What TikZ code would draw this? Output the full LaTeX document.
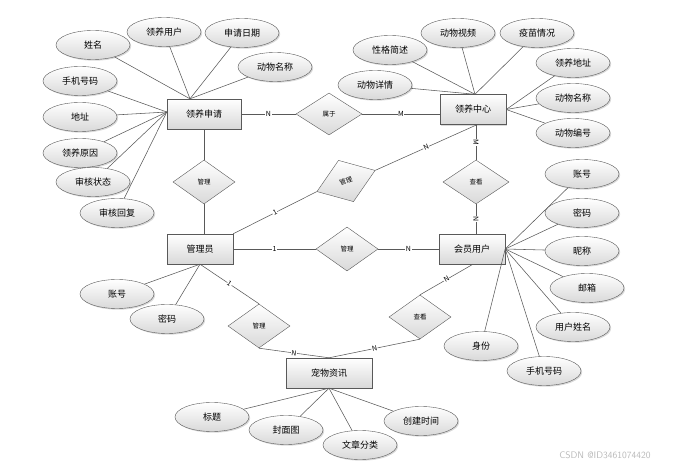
\documentclass[tikz,border=0pt]{standalone}
\usepackage{fontspec}
\usepackage{tikz}
\usetikzlibrary{shapes.geometric,shadows}
\newfontfamily\cjk{Noto Sans CJK SC}
\definecolor{edge}{rgb}{0.35,0.35,0.35}
\definecolor{shade}{rgb}{0.85,0.85,0.85}

\begin{document}
\begin{tikzpicture}[x=1pt, y=-1pt,
    every node/.style={font=\cjk\fontsize{9}{10}\selectfont},
    entity/.style={draw=edge, top color=white, bottom color=shade, minimum width=66pt, minimum height=30pt, inner sep=0pt,
      drop shadow={opacity=0.3, shadow xshift=1.2pt, shadow yshift=-1.2pt}},
    attr/.style={ellipse, draw=edge, top color=white, bottom color=shade, minimum width=74pt, minimum height=29pt, inner sep=0pt,
      drop shadow={opacity=0.3, shadow xshift=1.2pt, shadow yshift=-1.2pt}},
    rel/.style={diamond, draw=edge, top color=white, bottom color=shade, minimum width=62pt, minimum height=44pt, inner sep=0pt,
      font=\cjk\fontsize{6.5}{7}\selectfont},
    card/.style={midway, sloped, fill=white, inner sep=0.5pt, font=\cjk\fontsize{7}{7}\selectfont},
    link/.style={draw=edge, line width=0.55pt}]

      \useasboundingbox (0,0) rectangle (686,470);

      % entities
      \node [entity, minimum width=74pt] at (204, 114) (lysq) {领养申请};
      \node [entity] at (473, 109.5) (lyzx) {领养中心};
      \node [entity] at (200, 249) (gly) {管理员};
      \node [entity] at (472, 249) (hyyh) {会员用户};
      \node [entity, minimum width=86pt] at (329, 373) (cwzx) {宠物资讯};

      % relations
      \node [rel, minimum width=66pt, minimum height=42pt] at (329, 114) (sy) {属于};
      \node [rel] at (204, 182) (gl1) {管理};
      \node [rel, rotate=20] at (346, 181) (gl2) {管理};
      \node [rel] at (347, 249) (gl3) {管理};
      \node [rel] at (259, 326) (gl4) {管理};
      \node [rel, minimum width=66pt] at (476, 182) (ck1) {查看};
      \node [rel] at (420, 317) (ck2) {查看};

      % attributes of 领养申请
      \node [attr] at (93, 45) (sq1) {姓名};
      \node [attr] at (164, 32) (sq2) {领养用户};
      \node [attr] at (242, 33) (sq3) {申请日期};
      \node [attr] at (275, 67) (sq4) {动物名称};
      \node [attr] at (80, 81) (sq5) {手机号码};
      \node [attr] at (80, 117) (sq6) {地址};
      \node [attr] at (80, 153) (sq7) {领养原因};
      \node [attr] at (93, 182) (sq8) {审核状态};
      \node [attr] at (117, 213) (sq9) {审核回复};

      % attributes of 领养中心
      \node [attr] at (390, 50) (zx1) {性格简述};
      \node [attr] at (458, 33) (zx2) {动物视频};
      \node [attr] at (537, 33) (zx3) {疫苗情况};
      \node [attr] at (375, 85) (zx4) {动物详情};
      \node [attr] at (573, 63) (zx5) {领养地址};
      \node [attr] at (573, 98) (zx6) {动物名称};
      \node [attr] at (573, 133) (zx7) {动物编号};

      % attributes of 会员用户
      \node [attr] at (582, 174) (yh1) {账号};
      \node [attr] at (582, 213) (yh2) {密码};
      \node [attr] at (582, 251) (yh3) {昵称};
      \node [attr] at (587, 288) (yh4) {邮箱};
      \node [attr] at (573, 327) (yh5) {用户姓名};
      \node [attr] at (544, 371) (yh6) {手机号码};
      \node [attr] at (481, 346) (yh7) {身份};

      % attributes of 管理员
      \node [attr] at (117, 294) (gy1) {账号};
      \node [attr] at (167, 319) (gy2) {密码};

      % attributes of 宠物资讯
      \node [attr] at (212, 417) (zi1) {标题};
      \node [attr] at (286, 430) (zi2) {封面图};
      \node [attr] at (360, 445) (zi3) {文章分类};
      \node [attr] at (421, 421) (zi4) {创建时间};

      \node [text=gray!55, font=\fontsize{9.5}{10}\selectfont\sffamily] at (605, 455) (mark) {CSDN @ID3461074420};

      % attribute links
      \foreach \a in {sq1,sq2,sq3,sq4}
        \draw [link] (\a) -- ([xshift=-14pt]lysq.north);
      \foreach \a in {sq5,sq6,sq7,sq8,sq9}
        \draw [link] (\a) -- ([yshift=2pt]lysq.west);
      \foreach \a in {zx1,zx2,zx3,zx4}
        \draw [link] (\a) -- ([xshift=2pt]lyzx.north);
      \foreach \a in {zx5,zx6,zx7}
        \draw [link] (\a) -- (lyzx.east);
      \foreach \a in {yh1,yh2,yh3,yh4,yh5,yh6,yh7}
        \draw [link] (\a) -- (hyyh.east);
      \foreach \a in {gy1,gy2}
        \draw [link] (\a) -- (gly.south);
      \foreach \a in {zi1,zi2,zi3,zi4}
        \draw [link] (\a) -- (cwzx.south);

      % relation links
      \draw [link] (lysq.east |- sy.west) -- node [card] {N} (sy.west);
      \draw [link] (sy.east) -- node [card] {M} (sy.east -| lyzx.west);
      \draw [link] (lysq.south) -- (gl1.north);
      \draw [link] (gl1.south) -- (gl1.south |- gly.north);
      \draw [link] (gly.north east) -- node [card] {1} (gl2.west);
      \draw [link] (gl2.east) -- node [card] {N} ([xshift=4pt]lyzx.south);
      \draw [link] (ck1.north |- lyzx.south) -- node [card] {M} (ck1.north);
      \draw [link] (ck1.south) -- node [card] {N} (ck1.south |- hyyh.north);
      \draw [link] (gly.east) -- node [card] {1} (gl3.west);
      \draw [link] (gl3.east) -- node [card] {N} (hyyh.west);
      \draw [link] (gly.south) -- node [card] {1} (gl4.north);
      \draw [link] (gl4.south) -- node [card] {N} (cwzx.north);
      \draw [link] ([xshift=1pt]hyyh.south) -- node [card] {N} (ck2.north);
      \draw [link] (ck2.south) -- node [card] {N} (cwzx.north);
    \end{tikzpicture}
\end{document}
